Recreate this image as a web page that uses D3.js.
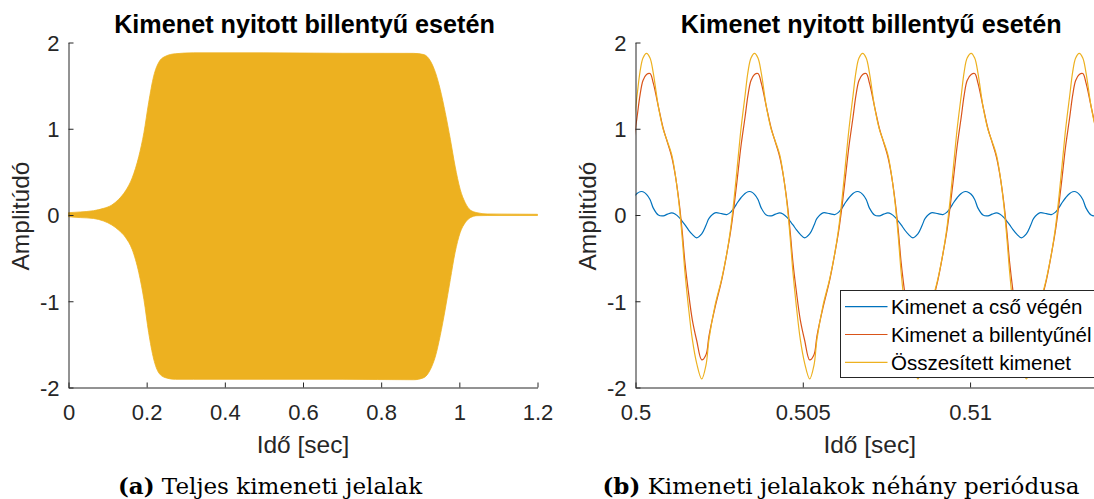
<!DOCTYPE html>
<html><head><meta charset="utf-8">
<script src="https://cdn.jsdelivr.net/npm/d3@7"></script>
<style>body{margin:0;background:#fff}svg{display:block}</style>
</head><body>
<script>
// ---------- DATA ----------
const chartTitle = "Kimenet nyitott billentyű esetén";
const xLabel = "Idő [sec]";
const yLabel = "Amplitúdó";
const captionA = ["(a)", " Teljes kimeneti jelalak"];
const captionB = ["(b)", " Kimeneti jelalakok néhány periódusa"];
const seriesNames = ["Kimenet a cső végén", "Kimenet a billentyűnél", "Összesített kimenet"];

const leftXTicks = [0, 0.2, 0.4, 0.6, 0.8, 1, 1.2];
const rightXTicks = [0.5, 0.505, 0.51];
const yTicks = [-2, -1, 0, 1, 2];

// (a) envelope of the full output signal
const envTime  = [0, 0.03, 0.064, 0.09, 0.111, 0.128, 0.146, 0.163, 0.18, 0.193, 0.205, 0.218, 0.231, 0.248, 0.274, 0.32, 0.5, 0.7, 0.883, 0.909, 0.926, 0.939, 0.951, 0.964, 0.977, 0.989, 1.002, 1.015, 1.028, 1.045, 1.071, 1.2];
const envUpper = [0.027, 0.035, 0.05, 0.077, 0.116, 0.18, 0.28, 0.43, 0.68, 0.955, 1.30, 1.61, 1.77, 1.84, 1.87, 1.88, 1.88, 1.875, 1.874, 1.86, 1.785, 1.65, 1.457, 1.186, 0.877, 0.568, 0.30, 0.143, 0.058, 0.027, 0.012, 0.008];
const envLower = [-0.02, -0.03, -0.04, -0.07, -0.116, -0.174, -0.26, -0.40, -0.67, -0.98, -1.36, -1.67, -1.83, -1.886, -1.905, -1.905, -1.905, -1.905, -1.91, -1.886, -1.79, -1.635, -1.40, -1.09, -0.746, -0.437, -0.205, -0.089, -0.031, -0.008, -0.006, -0.006];

// (b) a few periods
const zoomTime = [
  0.499925, 0.500045, 0.500135, 0.500224,
  0.500329, 0.500434, 0.500532, 0.500682, 0.500831, 0.500956, 0.501082, 0.501181, 0.501309, 0.501399, 0.501479, 0.501578, 0.501698, 0.501829, 0.501979, 0.502107, 0.502197, 0.502376, 0.502576, 0.502726, 0.502839, 0.502944, 0.503049, 0.503153, 0.503273, 0.503362, 0.503452,
  0.503557, 0.503661, 0.503760, 0.503909, 0.504059, 0.504184, 0.504310, 0.504408, 0.504537, 0.504626, 0.504707, 0.504806, 0.504925, 0.505057, 0.505206, 0.505335, 0.505424, 0.505604, 0.505804, 0.505953, 0.506067, 0.506172, 0.506276, 0.506381, 0.506500, 0.506590, 0.506680,
  0.506790, 0.506895, 0.506993, 0.507143, 0.507292, 0.507418, 0.507543, 0.507642, 0.507770, 0.507860, 0.507941, 0.508040, 0.508159, 0.508291, 0.508440, 0.508568, 0.508658, 0.508837, 0.509038, 0.509187, 0.509301, 0.509405, 0.509510, 0.509614, 0.509734, 0.509824, 0.509913,
  0.510033, 0.510138, 0.510236, 0.510386, 0.510535, 0.510661, 0.510786, 0.510885, 0.511013, 0.511103, 0.511184, 0.511282, 0.511402, 0.511534, 0.511683, 0.511811, 0.511901, 0.512080, 0.512281, 0.512430, 0.512544, 0.512648, 0.512753, 0.512857, 0.512977, 0.513067, 0.513156,
  0.513264, 0.513369, 0.513467, 0.513617, 0.513766, 0.513892, 0.514017, 0.514116
];
const pipeEnd = [
  0.2, 0.25, 0.27, 0.27,
  0.24, 0.18, 0.08, 0.0, -0.01, 0.01, 0.025, 0.012, -0.03, -0.075, -0.115, -0.17, -0.225, -0.265, -0.22, -0.12, -0.04, 0.025, 0.015, 0.005, 0.03, 0.08, 0.145, 0.2, 0.25, 0.27, 0.27,
  0.24, 0.18, 0.08, 0.0, -0.01, 0.01, 0.025, 0.012, -0.03, -0.075, -0.115, -0.17, -0.225, -0.265, -0.22, -0.12, -0.04, 0.025, 0.015, 0.005, 0.03, 0.08, 0.145, 0.2, 0.25, 0.27, 0.27,
  0.24, 0.18, 0.08, 0.0, -0.01, 0.01, 0.025, 0.012, -0.03, -0.075, -0.115, -0.17, -0.225, -0.265, -0.22, -0.12, -0.04, 0.025, 0.015, 0.005, 0.03, 0.08, 0.145, 0.2, 0.25, 0.27, 0.27,
  0.24, 0.18, 0.08, 0.0, -0.01, 0.01, 0.025, 0.012, -0.03, -0.075, -0.115, -0.17, -0.225, -0.265, -0.22, -0.12, -0.04, 0.025, 0.015, 0.005, 0.03, 0.08, 0.145, 0.2, 0.25, 0.27, 0.27,
  0.24, 0.18, 0.08, 0.0, -0.01, 0.01, 0.025, 0.012
];
const atKey = [
  0.8, 1.13, 1.39, 1.56,
  1.63, 1.64, 1.53, 1.26, 1.0, 0.84, 0.675, 0.48, 0.13, -0.205, -0.555, -0.88, -1.215, -1.455, -1.68, -1.62, -1.40, -1.075, -0.755, -0.455, -0.2, 0.1, 0.445, 0.8, 1.13, 1.39, 1.56,
  1.63, 1.64, 1.53, 1.26, 1.0, 0.84, 0.675, 0.48, 0.13, -0.205, -0.555, -0.88, -1.215, -1.455, -1.68, -1.62, -1.40, -1.075, -0.755, -0.455, -0.2, 0.1, 0.445, 0.8, 1.13, 1.39, 1.56,
  1.63, 1.64, 1.53, 1.26, 1.0, 0.84, 0.675, 0.48, 0.13, -0.205, -0.555, -0.88, -1.215, -1.455, -1.68, -1.62, -1.40, -1.075, -0.755, -0.455, -0.2, 0.1, 0.445, 0.8, 1.13, 1.39, 1.56,
  1.63, 1.64, 1.53, 1.26, 1.0, 0.84, 0.675, 0.48, 0.13, -0.205, -0.555, -0.88, -1.215, -1.455, -1.68, -1.62, -1.40, -1.075, -0.755, -0.455, -0.2, 0.1, 0.445, 0.8, 1.13, 1.39, 1.56,
  1.63, 1.64, 1.53, 1.26, 1.0, 0.84, 0.675, 0.48
];
const total = [
  1.0, 1.38, 1.66, 1.82,
  1.875, 1.82, 1.645, 1.26, 0.99, 0.85, 0.70, 0.49, 0.10, -0.28, -0.67, -1.05, -1.44, -1.72, -1.90, -1.74, -1.44, -1.05, -0.74, -0.45, -0.17, 0.18, 0.59, 1.0, 1.38, 1.66, 1.82,
  1.875, 1.82, 1.645, 1.26, 0.99, 0.85, 0.70, 0.49, 0.10, -0.28, -0.67, -1.05, -1.44, -1.72, -1.90, -1.74, -1.44, -1.05, -0.74, -0.45, -0.17, 0.18, 0.59, 1.0, 1.38, 1.66, 1.82,
  1.875, 1.82, 1.645, 1.26, 0.99, 0.85, 0.70, 0.49, 0.10, -0.28, -0.67, -1.05, -1.44, -1.72, -1.90, -1.74, -1.44, -1.05, -0.74, -0.45, -0.17, 0.18, 0.59, 1.0, 1.38, 1.66, 1.82,
  1.875, 1.82, 1.645, 1.26, 0.99, 0.85, 0.70, 0.49, 0.10, -0.28, -0.67, -1.05, -1.44, -1.72, -1.90, -1.74, -1.44, -1.05, -0.74, -0.45, -0.17, 0.18, 0.59, 1.0, 1.38, 1.66, 1.82,
  1.875, 1.82, 1.645, 1.26, 0.99, 0.85, 0.70, 0.49
];
const seriesColors = ["#0072BD", "#D95319", "#EDB120"];

// ---------- DRAW ----------
const SANS = "'Liberation Sans', Arial, Helvetica, sans-serif";
const SERIF = "'DejaVu Serif', serif";
const AX = "#262626";

const svg = d3.select("body").append("svg").attr("width", 1094).attr("height", 499)
  .style("background", "#fff");

const yTop = 42.5, yBot = 387.5;
const xA = d3.scaleLinear().domain([0, 1.2]).range([68.5, 537.5]);
const xB = d3.scaleLinear().domain([0.5, 0.514]).range([635.5, 1103.9]);
const y = d3.scaleLinear().domain([-2, 2]).range([yBot, yTop]);

const defs = svg.append("defs");
defs.append("clipPath").attr("id", "clipB").append("rect")
  .attr("x", xB.range()[0]).attr("y", yTop).attr("width", xB.range()[1] - xB.range()[0]).attr("height", yBot - yTop);

// (a) envelope fill
const envData = envTime.map((t, i) => ({t, hi: envUpper[i], lo: envLower[i]}));
svg.append("path").datum(envData)
  .attr("fill", seriesColors[2]).attr("stroke", seriesColors[2]).attr("stroke-width", 0.8)
  .attr("d", d3.area().x(d => xA(d.t)).y0(d => y(d.lo)).y1(d => y(d.hi)).curve(d3.curveMonotoneX));

// (b) lines
const seriesVals = [pipeEnd, atKey, total];
const gLines = svg.append("g").attr("clip-path", "url(#clipB)");
const line = d3.line().x(d => xB(d[0])).y(d => y(d[1])).curve(d3.curveCatmullRom.alpha(0.5));
seriesVals.forEach((vals, si) => {
  gLines.append("path").datum(zoomTime.map((t, i) => [t, vals[i]]))
    .attr("fill", "none").attr("stroke", seriesColors[si]).attr("stroke-width", 1.2)
    .attr("d", line);
});

function drawAxes(x, xTicks) {
  const gx = svg.append("g").attr("transform", `translate(0,${yBot})`)
    .call(d3.axisBottom(x).tickValues(xTicks).tickFormat(d => String(d))
      .tickSizeInner(-5).tickSizeOuter(0).tickPadding(17));
  const gy = svg.append("g").attr("transform", `translate(${x.range()[0]},0)`)
    .call(d3.axisLeft(y).tickValues(yTicks).tickFormat(d => String(d))
      .tickSizeInner(-5).tickSizeOuter(0).tickPadding(9));
  [gx, gy].forEach(g => {
    g.attr("font-family", SANS).attr("font-size", 22);
    g.selectAll("path.domain").attr("stroke", AX).attr("stroke-width", 1);
    g.selectAll(".tick line").attr("stroke", AX).attr("stroke-width", 1);
    g.selectAll(".tick text").attr("fill", AX);
  });
  gx.selectAll(".tick text").attr("dy", "0")
    .attr("y", 420 - yBot);
  gy.selectAll(".tick text").attr("dy", "0.36em");
  const cx = (x.range()[0] + x.range()[1]) / 2;
  svg.append("text").attr("x", cx + 1.5).attr("y", 33).attr("text-anchor", "middle")
    .attr("font-family", SANS).attr("font-weight", "bold").attr("font-size", 25.2).attr("fill", "#000")
    .text(chartTitle);
  svg.append("text").attr("x", cx).attr("y", 453).attr("text-anchor", "middle")
    .attr("font-family", SANS).attr("font-size", 24.5).attr("fill", AX).text(xLabel);
  const lx = x.range()[0] - 39.5;
  svg.append("text").attr("transform", `translate(${lx},216) rotate(-90)`).attr("text-anchor", "middle")
    .attr("font-family", SANS).attr("font-size", 24.5).attr("fill", AX).text(yLabel);
}
drawAxes(xA, leftXTicks);
drawAxes(xB, rightXTicks);

// legend
const lg = svg.append("g");
lg.append("rect").attr("x", 840.5).attr("y", 290.5).attr("width", 259).attr("height", 87)
  .attr("fill", "#fff").attr("stroke", AX).attr("stroke-width", 1);
seriesNames.forEach((name, i) => {
  const ry = 306.7 + i * 27.8;
  lg.append("line").attr("x1", 845).attr("x2", 887.5).attr("y1", ry).attr("y2", ry)
    .attr("stroke", seriesColors[i]).attr("stroke-width", 1.2);
  lg.append("text").attr("x", 891).attr("y", ry).attr("dy", "0.36em")
    .attr("font-family", SANS).attr("font-size", 20.5).attr("fill", "#000").text(name);
});

// captions
function caption(parts, cx) {
  const t = svg.append("text").attr("x", cx).attr("y", 493.5).attr("text-anchor", "middle")
    .attr("font-family", SERIF).attr("font-size", 23).attr("fill", "#000");
  t.append("tspan").attr("font-weight", "bold").text(parts[0]);
  t.append("tspan").text(parts[1]);
}
caption(captionA, 270);
caption(captionB, 841);
</script>
</body></html>
